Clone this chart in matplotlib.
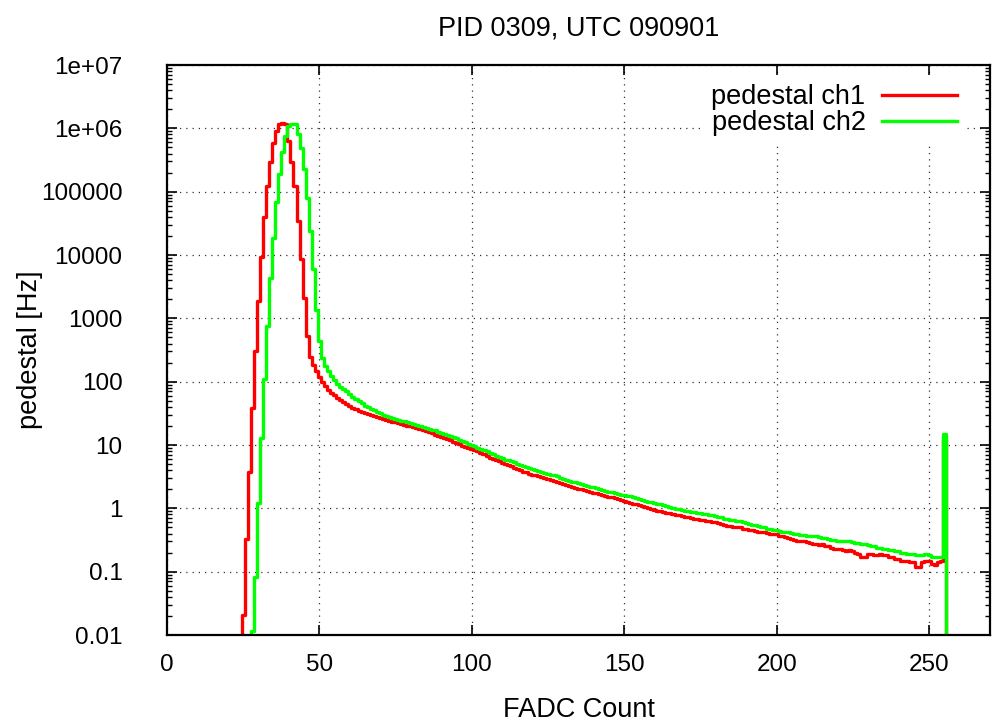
import numpy as np
import matplotlib
matplotlib.use("Agg")
import matplotlib.pyplot as plt
from matplotlib.ticker import FixedLocator, FixedFormatter, LogLocator, NullFormatter

plt.rcParams['font.family'] = ['Liberation Sans', 'DejaVu Sans']

# FADC histogram, one value per count bin (Hz); bins outside the lists are empty
red_start = 25
red_vals = [
    0.021, 0.33, 3.8, 38, 300, 1850, 9400, 40000, 122000, 294000,          # 25
    583000, 905000, 1.16e6, 1.2e6, 1.16e6, 620000, 294000, 122000, 35000, 8800,  # 35
    2100, 530, 245, 182, 148, 118, 100, 84, 74, 67,                        # 45
    61, 56, 51, 47, 44, 41, 39, 37, 35, 33,                                # 55
    31.5, 30.5, 29.5, 28.5, 27.5, 26.5, 25.5, 24.8, 24.0, 23.4,            # 65
    22.7, 22.0, 21.3, 20.8, 20.2, 19.6, 18.9, 18.3, 17.6, 17.0,            # 75
    16.4, 15.8, 15.2, 14.6, 14.0, 13.4, 12.9, 12.3, 11.8, 11.3,            # 85
    10.8, 10.3, 9.8, 9.4, 9.0, 8.6, 8.2, 7.9, 7.4, 7.1,                    # 95
    6.7, 6.3, 6.0, 5.7, 5.5, 5.2, 5.0, 4.8, 4.6, 4.4,                      # 105
    4.2, 4.0, 3.8, 3.7, 3.5, 3.4, 3.3, 3.2, 3.1, 3.0,                      # 115
    2.9, 2.8, 2.75, 2.6, 2.5, 2.4, 2.3, 2.25, 2.15, 2.1,                   # 125
    2.05, 2.0, 1.92, 1.88, 1.82, 1.77, 1.72, 1.66, 1.62, 1.55,             # 135
    1.52, 1.49, 1.45, 1.38, 1.33, 1.30, 1.27, 1.23, 1.19, 1.16,            # 145
    1.11, 1.08, 1.04, 1.01, 0.98, 0.95, 0.92, 0.90, 0.87, 0.85,            # 155
    0.83, 0.81, 0.79, 0.78, 0.76, 0.74, 0.72, 0.71, 0.69, 0.68,            # 165
    0.66, 0.65, 0.64, 0.62, 0.61, 0.60, 0.59, 0.56, 0.54, 0.52,            # 175
    0.52, 0.51, 0.51, 0.50, 0.48, 0.47, 0.46, 0.45, 0.44, 0.43,            # 185
    0.42, 0.42, 0.41, 0.40, 0.39, 0.39, 0.37, 0.36, 0.35, 0.34,            # 195
    0.33, 0.32, 0.31, 0.30, 0.30, 0.29, 0.28, 0.27, 0.27, 0.26,            # 205
    0.27, 0.25, 0.25, 0.24, 0.23, 0.23, 0.23, 0.22, 0.21, 0.22,            # 215
    0.21, 0.20, 0.19, 0.17, 0.17, 0.19, 0.19, 0.18, 0.18, 0.19,            # 225
    0.18, 0.18, 0.17, 0.17, 0.16, 0.16, 0.15, 0.15, 0.15, 0.14,            # 235
    0.14, 0.12, 0.12, 0.14, 0.145, 0.15, 0.13, 0.127, 0.14, 0.15,          # 245
    12,                                                                    # 255
]

green_start = 28
green_vals = [
    0.0115, 0.083, 1.22, 13, 110, 770, 4400, 18700, 69500, 189000,         # 28
    427000, 750000, 1.08e6, 1.17e6, 1.17e6, 800000, 484000, 229000, 79000, 24000,  # 38
    6000, 1350, 440, 240, 175, 145, 122, 105, 92, 82,                      # 48
    76, 70, 63, 58, 54, 50, 46, 42, 40, 37.5,                              # 58
    35.5, 33.5, 31.5, 30, 28.8, 27.8, 26.8, 26, 25, 24.2,                  # 68
    23.5, 22.8, 22.1, 21.3, 20.6, 20, 19.4, 18.8, 18.2, 17.5,              # 78
    17, 16.3, 15.6, 15.0, 14.3, 13.8, 13.2, 12.7, 12.1, 11.6,              # 88
    11.0, 10.5, 10.1, 9.6, 9.0, 8.6, 8.3, 7.9, 7.5, 7.1,                   # 98
    6.8, 6.5, 6.2, 5.9, 5.7, 5.5, 5.3, 5.1, 4.9, 4.7,                      # 108
    4.5, 4.3, 4.2, 4.0, 3.9, 3.75, 3.65, 3.5, 3.4, 3.3,                    # 118
    3.2, 3.05, 2.95, 2.85, 2.75, 2.65, 2.57, 2.5, 2.45, 2.35,              # 128
    2.28, 2.2, 2.15, 2.07, 2.0, 1.95, 1.9, 1.83, 1.78, 1.75,               # 138
    1.7, 1.65, 1.62, 1.58, 1.54, 1.5, 1.45, 1.4, 1.36, 1.32,               # 148
    1.28, 1.25, 1.22, 1.18, 1.15, 1.12, 1.08, 1.05, 1.02, 0.98,            # 158
    0.96, 0.95, 0.92, 0.90, 0.88, 0.86, 0.85, 0.83, 0.82, 0.80,            # 168
    0.79, 0.78, 0.75, 0.73, 0.72, 0.69, 0.68, 0.66, 0.65, 0.63,            # 178
    0.62, 0.60, 0.58, 0.57, 0.55, 0.54, 0.52, 0.51, 0.50, 0.48,            # 188
    0.47, 0.46, 0.45, 0.44, 0.43, 0.43, 0.42, 0.41, 0.40, 0.39,            # 198
    0.38, 0.38, 0.37, 0.37, 0.36, 0.36, 0.35, 0.34, 0.34, 0.33,            # 208
    0.32, 0.32, 0.31, 0.31, 0.30, 0.31, 0.30, 0.29, 0.28, 0.28,            # 218
    0.27, 0.27, 0.26, 0.25, 0.25, 0.24, 0.24, 0.23, 0.23, 0.22,            # 228
    0.22, 0.21, 0.21, 0.20, 0.20, 0.19, 0.19, 0.19, 0.18, 0.18,            # 238
    0.18, 0.19, 0.18, 0.17, 0.17, 0.17, 0.17,                              # 248
    15,                                                                    # 255
]

ytick_vals = [1e-2, 1e-1, 1, 10, 100, 1000, 1e4, 1e5, 1e6, 1e7]
ytick_labels = ["0.01", "0.1", "1", "10", "100", "1000", "10000", "100000", "1e+06", "1e+07"]
xtick_vals = [0, 50, 100, 150, 200, 250]

nbins = 262


def full_hist(start, vals):
    h = np.zeros(nbins)
    h[start:start + len(vals)] = vals
    # empty bins fall off the bottom of the log axis
    return np.where(h > 0, h, 1e-5)


x = np.arange(nbins)
red = full_hist(red_start, red_vals)
green = full_hist(green_start, green_vals)

fig = plt.figure(figsize=(9.92, 7.22), dpi=100)
ax = fig.add_axes([167 / 992, 1 - 635 / 722, (990 - 167) / 992, (635 - 65) / 722])

ax.step(x, red, where='mid', color='#ff0000', lw=2.4, label='pedestal ch1')
ax.step(x, green, where='mid', color='#00ff00', lw=2.4, label='pedestal ch2')

ax.set_yscale('log')
ax.set_xlim(0, 270)
ax.set_ylim(0.01, 1e7)

ax.xaxis.set_major_locator(FixedLocator(xtick_vals))
ax.yaxis.set_major_locator(FixedLocator(ytick_vals))
ax.yaxis.set_major_formatter(FixedFormatter(ytick_labels))
ax.yaxis.set_minor_locator(LogLocator(base=10, subs=np.arange(2, 10)))
ax.yaxis.set_minor_formatter(NullFormatter())

ax.tick_params(which='major', direction='in', length=7, width=1.2,
               top=True, right=True, labelsize=17.5)
ax.tick_params(axis='x', which='major', pad=13.5)
ax.tick_params(axis='y', which='major', pad=32)
ax.tick_params(axis='y', which='minor', direction='in', length=3.5, width=1,
               left=True, right=True)

for s in ax.spines.values():
    s.set_linewidth(1.6)

ax.grid(True, which='major', color='0.2', linestyle=(0, (1, 4)), linewidth=0.9)

ax.set_title('PID 0309, UTC 090901', fontsize=19.5, pad=21)
ax.set_xlabel('FADC Count', fontsize=19.5, labelpad=15)
ax.set_ylabel('pedestal [Hz]', fontsize=19.5)
ax.yaxis.set_label_coords(-124 / 823, 0.5)

leg = ax.legend(loc='upper right', bbox_to_anchor=(0.986, 1.004), markerfirst=False,
                fontsize=19.5, handlelength=2.77, handletextpad=0.6, labelspacing=0.0,
                borderpad=0.3, frameon=True, fancybox=False)
leg.get_frame().set_edgecolor('none')
leg.get_frame().set_facecolor('white')
leg.get_frame().set_alpha(1)
for t in leg.get_texts():
    t.set_ha('right')

fig.savefig('out.png', dpi=100)
